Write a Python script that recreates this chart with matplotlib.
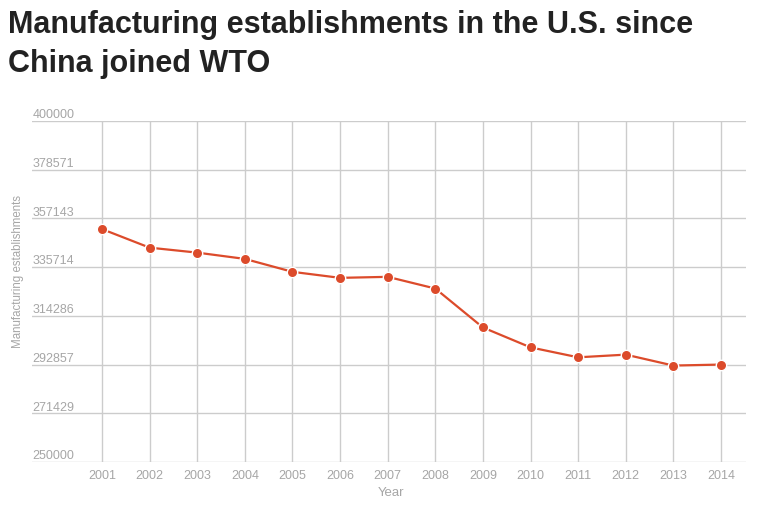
import matplotlib
matplotlib.use("Agg")
import matplotlib.pyplot as plt

# values
years = [2001, 2002, 2003, 2004, 2005, 2006, 2007, 2008, 2009, 2010, 2011, 2012, 2013, 2014]
establishments = [352460, 344290, 342100, 339340, 333650, 331000, 331450, 326300,
                  309170, 300420, 296050, 297230, 292420, 292860]
y_ticks = [250000, 271429, 292857, 314286, 335714, 357143, 378571, 400000]

plt.rcParams['font.family'] = ['Liberation Sans', 'DejaVu Sans']

W, H = 759, 509
fig = plt.figure(figsize=(W / 100, H / 100), dpi=100)
ax = fig.add_axes([32 / W, (H - 462) / H, (746 - 32) / W, (462 - 121) / H])

ax.set_xlim(1999.53, 2014.525)
ax.set_ylim(250000, 400000)

grid_col = '#cccccc'
label_col = '#a6a6a6'

# horizontal gridlines with labels sitting on top of them
for t in y_ticks:
    ax.axhline(t, color=grid_col, lw=1, zorder=1)
    ax.annotate(str(t), xy=(0, t), xycoords=('axes fraction', 'data'),
                xytext=(0.5, 2), textcoords='offset points',
                ha='left', va='baseline', fontsize=9, color=label_col)

# vertical gridlines at each year
ax.vlines(years, 250000, 400000, color=grid_col, lw=1, zorder=1)

ax.plot(years, establishments, color='#dc4b2b', lw=1.6, zorder=3,
        marker='o', markersize=7.5, markerfacecolor='#dc4b2b',
        markeredgecolor='white', markeredgewidth=1)

for s in ax.spines.values():
    s.set_visible(False)
ax.set_yticks([])
ax.set_xticks(years)
ax.set_xticklabels([str(y) for y in years], fontsize=9, color=label_col)
ax.tick_params(axis='x', length=0, pad=6)

fig.text(391 / W, 1 - 493 / H, 'Year', ha='center', va='center',
         fontsize=9.5, color=label_col)
fig.text(18 / W, 1 - 272 / H, 'Manufacturing establishments', ha='center', va='center',
         rotation=90, fontsize=8.3, color=label_col)

fig.text(8 / W, 1 - 33 / H, 'Manufacturing establishments in the U.S. since',
         ha='left', va='baseline', fontsize=22, fontweight='bold', color='#222222')
fig.text(8 / W, 1 - 72 / H, 'China joined WTO',
         ha='left', va='baseline', fontsize=22, fontweight='bold', color='#222222')

fig.savefig('out.png', dpi=100, facecolor='white')
